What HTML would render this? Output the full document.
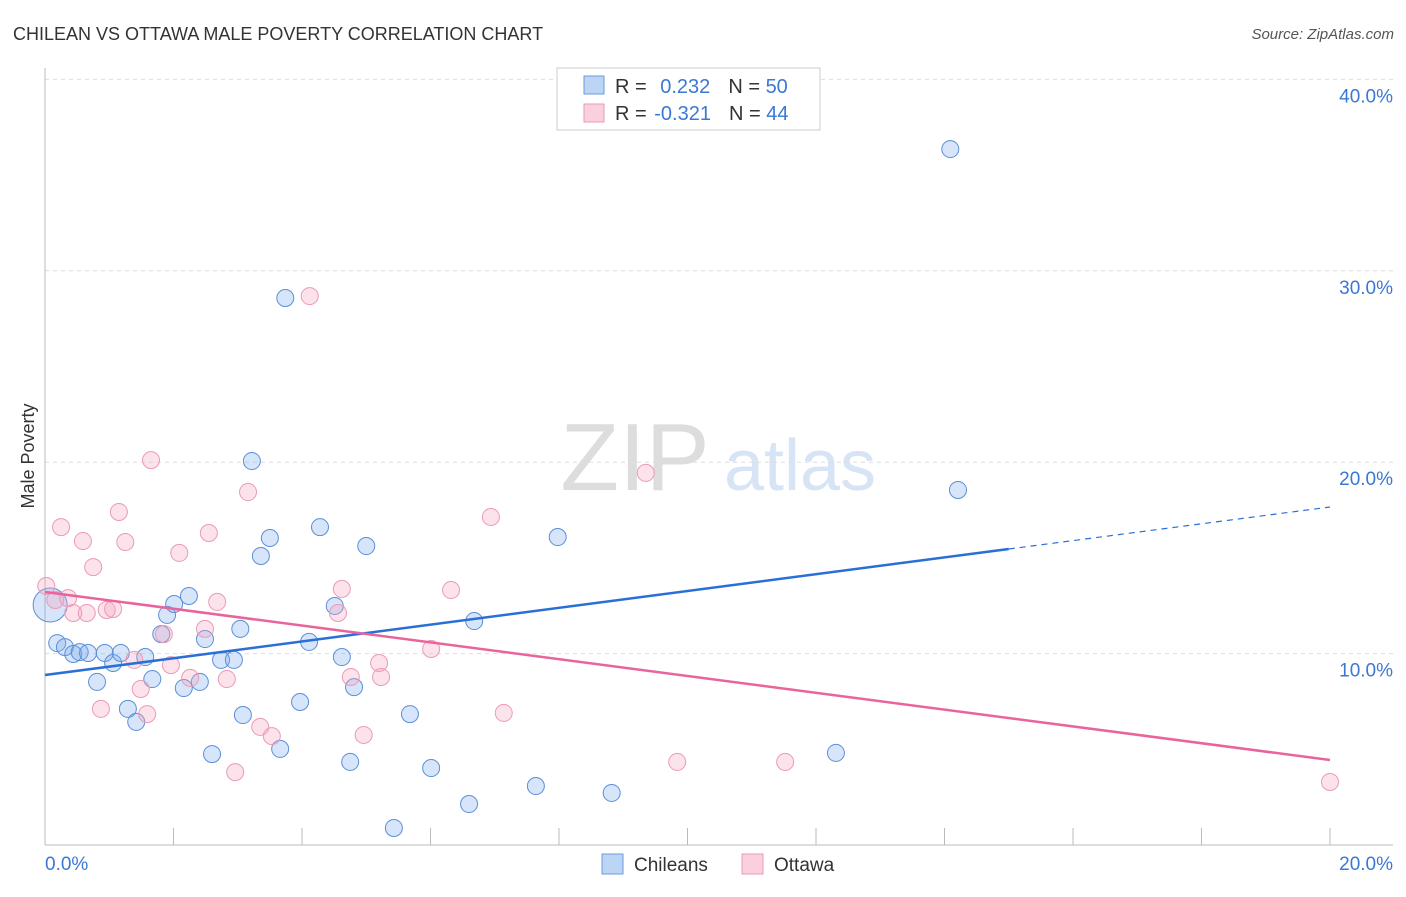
<!DOCTYPE html>
<html><head><meta charset="utf-8"><style>
body{margin:0;background:#fff;font-family:"Liberation Sans",sans-serif;}
svg text{font-family:"Liberation Sans",sans-serif;}
</style></head><body>
<svg id="chart" width="1406" height="892" xmlns="http://www.w3.org/2000/svg">
<text x="13" y="40" font-size="18" fill="#333">CHILEAN VS OTTAWA MALE POVERTY CORRELATION CHART</text>
<text x="1394" y="39" font-size="15" font-style="italic" fill="#555" text-anchor="end">Source: ZipAtlas.com</text>
<g>
<text x="635" y="490" font-size="96" font-family="Liberation Serif" fill="#ddd" text-anchor="middle">ZIP</text>
<text x="800" y="490" font-size="72" fill="#d6e4f6" text-anchor="middle">atlas</text>
</g>
<g id="grid"></g>
<line x1="45" y1="68" x2="45" y2="845" stroke="#bbb"/>
<line x1="45" y1="845" x2="1393" y2="845" stroke="#bbb"/>
<text transform="translate(34,456) rotate(-90)" font-size="18" fill="#333" text-anchor="middle">Male Poverty</text>
<g id="ticks"></g>
<g id="pts"></g>
<g id="lines"></g>
<g>
<rect x="557" y="68" width="263" height="62" fill="#fff" stroke="#ccc"/>
<rect x="584" y="76" width="20" height="18" fill="#bcd5f5" stroke="#6a9bdc"/>
<rect x="584" y="104" width="20" height="18" fill="#fbd0de" stroke="#eb9ab6"/>
<text x="615" y="93" font-size="20" fill="#333">R = <tspan fill="#3a78d4" dx="8">0.232</tspan><tspan dx="18">N = </tspan><tspan fill="#3a78d4">50</tspan></text>
<text x="615" y="120" font-size="20" fill="#333">R = <tspan fill="#3a78d4" dx="2">-0.321</tspan><tspan dx="18">N = </tspan><tspan fill="#3a78d4">44</tspan></text>
</g>
<g>
<rect x="602" y="854" width="21" height="20" fill="#bcd5f5" stroke="#6a9bdc"/>
<text x="634" y="871" font-size="19" fill="#333">Chileans</text>
<rect x="742" y="854" width="21" height="20" fill="#fbd0de" stroke="#eb9ab6"/>
<text x="774" y="871" font-size="19" fill="#333">Ottawa</text>
</g>
</svg>
<script>
const yTicks=[10,20,30,40];
const yTickLabels=["10.0%","20.0%","30.0%","40.0%"];
const xTickLabels=["0.0%","20.0%"];
const blueX=[0.08,0.19,0.31,0.44,0.54,0.67,0.81,0.93,1.06,1.18,1.29,1.42,1.56,1.67,1.81,1.90,2.01,2.16,2.24,2.41,2.49,2.60,2.74,2.94,3.04,3.08,3.22,3.36,3.50,3.66,3.74,3.97,4.11,4.28,4.51,4.62,4.75,4.81,5.00,5.43,5.68,6.01,6.60,6.68,7.64,7.98,8.82,12.31,14.09,14.21];
const blueY=[12.54,10.55,10.34,9.98,10.08,10.03,8.52,10.03,9.51,10.03,7.11,6.43,9.82,8.67,11.02,12.02,12.59,8.20,13.01,8.52,10.76,4.75,9.67,9.67,11.29,6.79,20.06,15.10,16.04,5.02,28.58,7.47,10.61,16.61,12.49,9.82,4.34,8.25,15.62,0.89,6.84,4.02,2.14,11.70,3.08,16.09,2.72,4.81,36.36,18.55];
const pinkX=[0.02,0.16,0.25,0.36,0.44,0.59,0.65,0.75,0.87,0.96,1.06,1.15,1.25,1.39,1.49,1.59,1.65,1.85,1.96,2.09,2.26,2.49,2.55,2.68,2.83,2.96,3.16,3.35,3.53,4.12,4.56,4.62,4.76,4.96,5.20,5.23,6.01,6.32,6.94,7.14,9.35,9.84,11.52,20.0];
const pinkY=[13.53,12.80,16.61,12.90,12.12,15.88,12.12,14.52,7.11,12.28,12.33,17.40,15.83,9.67,8.15,6.84,20.11,11.02,9.40,15.26,8.73,11.29,16.30,12.70,8.67,3.81,18.44,6.17,5.69,28.68,12.12,13.38,8.78,5.75,9.51,8.78,10.24,13.32,17.14,6.90,19.44,4.34,4.34,3.29];
const blueTrend=[8.88,17.66], blueSolidEnd=15.0;
const pinkTrend=[13.22,4.44];
const NS="http://www.w3.org/2000/svg";
const sx=v=>45+v*64.25, sy=v=>845-v*19.14;
function mk(tag,attrs,parent){const e=document.createElementNS(NS,tag);for(const k in attrs)e.setAttribute(k,attrs[k]);document.getElementById(parent).appendChild(e);return e;}
yTicks.forEach((t,i)=>{
 const g=mk('line',{x1:45,x2:1393,y1:sy(t),y2:sy(t),stroke:'#ddd','stroke-dasharray':'4,4'},'grid');
 
 
 const tx=mk('text',{x:1393,y:sy(t)+23,'font-size':19,fill:'#3a78d4','text-anchor':'end'},'ticks');
 tx.textContent=yTickLabels[i];
 
 
});
for(let i=0;i<=10;i++){
 const l=mk('line',{x1:sx(i*2),x2:sx(i*2),y1:828,y2:845,stroke:'#bbb'},'ticks');
 
 
}
[[0,'start',45],[20,'end',1393]].forEach((d,i)=>{
 const t=mk('text',{x:d[2],y:870,'font-size':19,fill:'#3a78d4','text-anchor':d[1]},'ticks');
 t.textContent=xTickLabels[i];
 
 
});
blueX.forEach((x,i)=>{
 const c=mk('circle',{cx:sx(x),cy:sy(blueY[i]),r:i==0?17:8.5,fill:'rgba(120,170,235,0.3)',stroke:'#5b8fd8','stroke-width':1},'pts');
 
 
});
pinkX.forEach((x,i)=>{
 const c=mk('circle',{cx:sx(x),cy:sy(pinkY[i]),r:8.5,fill:'rgba(245,160,190,0.3)',stroke:'#eb9ab6','stroke-width':1},'pts');
 
 
});
const by=x=>blueTrend[0]+(blueTrend[1]-blueTrend[0])*x/20;
let l1=mk('line',{x1:sx(0),y1:sy(by(0)),x2:sx(blueSolidEnd),y2:sy(by(blueSolidEnd)),stroke:'#2a6fd6','stroke-width':2.5},'lines');


let l2=mk('line',{x1:sx(blueSolidEnd),y1:sy(by(blueSolidEnd)),x2:sx(20),y2:sy(by(20)),stroke:'#2a6fd6','stroke-width':1.2,'stroke-dasharray':'6,5'},'lines');


let l3=mk('line',{x1:sx(0),y1:sy(pinkTrend[0]),x2:sx(20),y2:sy(pinkTrend[1]),stroke:'#e8649a','stroke-width':2.5},'lines');


</script>
</body></html>
